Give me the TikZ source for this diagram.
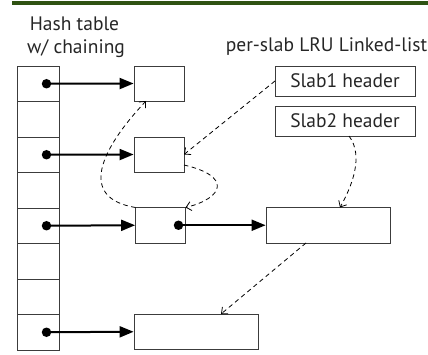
\documentclass[tikz,border=0pt]{standalone}
\usepackage{fontspec}
\setmainfont{PT Sans}
\usetikzlibrary{arrows.meta,calc}
\definecolor{barGreen}{HTML}{2F5212}
\definecolor{edgeGray}{HTML}{3C3C3C}
\begin{document}
\begin{tikzpicture}[x=1pt,y=-1pt,
  cell/.style={draw=edgeGray,line width=0.8pt,minimum width=42pt,minimum height=35.5pt,inner sep=0pt,outer sep=0pt},
  box/.style={draw=edgeGray,line width=0.8pt,inner sep=0pt,outer sep=0pt,anchor=north west},
  header/.style={box,minimum width=140pt,minimum height=30pt,font=\fontsize{19.5}{22}\selectfont,text=black!85},
  label/.style={font=\fontsize{19.5}{22}\selectfont,text=black!85,anchor=base,inner sep=0pt},
  dot/.style={circle,fill=black,inner sep=0pt,minimum size=9.5pt},
  ptr/.style={line width=2pt,-{Triangle[length=14pt,width=11pt]},shorten >=0.4pt},
  lru/.style={line width=0.8pt,dash pattern=on 4.5pt off 3.5pt,-{Straight Barb[length=5pt,width=9pt]}}
]
\useasboundingbox (0,0) rectangle (428,355);
% title rule
\fill[barGreen] (12,1) rectangle (428,5);

% captions
\node[label] (cap1) at (74.5,31) {Hash table};
\node[label] (cap2) at (76,54) {w/ chaining};
\node[label] (cap3) at (326.5,51.5) {per-slab LRU Linked-list};

% hash table buckets
\foreach \i in {1,...,8}
  \node[cell] (r\i) at (38,{66+35.5*(\i-0.5)}) {};

% chained items
\node[box,minimum width=50pt,minimum height=35pt] (b1) at (134,66) {};
\node[box,minimum width=50pt,minimum height=35pt] (b2) at (134,137) {};
\node[box,minimum width=50pt,minimum height=35.5pt] (b3) at (135.5,207.5) {};
\node[box,minimum width=124pt,minimum height=35.5pt] (b4) at (266,207.5) {};
\node[box,minimum width=124pt,minimum height=35.5pt] (b5) at (134,314) {};

% slab headers
\node[header] (s1) at (275,66) {Slab1 header};
\node[header] (s2) at (275,106) {Slab2 header};

% bucket pointers
\node[dot] (d1) at ([xshift=-12.5pt]r1.east) {};
\node[dot] (d3) at ([xshift=-12.5pt]r3.east) {};
\node[dot] (d5) at ([xshift=-12.5pt]r5.east) {};
\node[dot] (d8) at ([xshift=-12.5pt]r8.east) {};
\node[dot] (d9) at ([xshift=-7pt]b3.east) {};
\draw[ptr] (d1.center) -- (b1.west);
\draw[ptr] (d3.center) -- (b2.west);
\draw[ptr] (d5.center) -- (b3.west);
\draw[ptr] (d8.center) -- (b5.west);
\draw[ptr] (d9.center) -- (b4.west);

% LRU links
\draw[lru] (s1.west) -- (b2.east);
\draw[lru] ([yshift=7pt]b2.south east) .. controls (232,176) and (224,198) .. (b3.north east);
\draw[lru] (b3.north west) .. controls (78,198) and (100,150) .. ([xshift=-13pt]b1.south);
\draw[lru] ([xshift=4pt]s2.south) .. controls (364,156) and (352,186) .. ([xshift=12pt]b4.north);
\draw[lru] ([xshift=-22pt]b4.south) -- ([xshift=-37pt]b5.north east);
\end{tikzpicture}
\end{document}
